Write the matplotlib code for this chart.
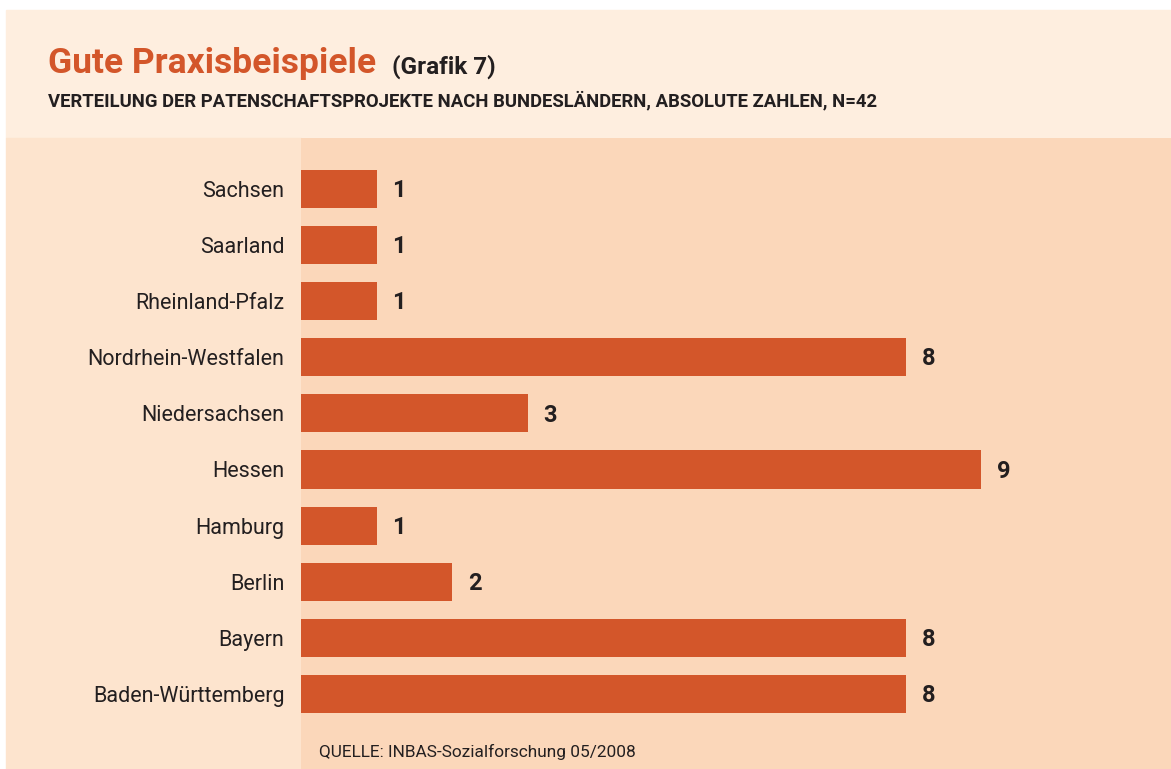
import matplotlib.pyplot as plt
from matplotlib.patches import Rectangle

# data (top to bottom as shown)
laender = ["Sachsen", "Saarland", "Rheinland-Pfalz", "Nordrhein-Westfalen",
           "Niedersachsen", "Hessen", "Hamburg", "Berlin", "Bayern",
           "Baden-Württemberg"]
projekte = [1, 1, 1, 8, 3, 9, 1, 2, 8, 8]

BAR = "#D3562A"
HEAD_BG = "#FEEEDF"
LABEL_BG = "#FDE4CE"
PLOT_BG = "#FBD7BA"
INK = "#231F20"

plt.rcParams["font.family"] = ["Roboto", "DejaVu Sans"]

W, H = 1171, 769
fig = plt.figure(figsize=(W / 100, H / 100), dpi=100)
fig.patch.set_facecolor("white")

# background panels (pixel coords -> figure fraction)
def px_rect(x0, y0, x1, y1, color):
    fig.patches.append(Rectangle((x0 / W, 1 - y1 / H), (x1 - x0) / W, (y1 - y0) / H,
                                 transform=fig.transFigure, color=color, zorder=-5))

px_rect(6, 10, W, 138, HEAD_BG)
px_rect(6, 138, 301, H, LABEL_BG)

ax = fig.add_axes([301 / W, 0, 1 - 301 / W, (H - 138) / H])
ax.set_facecolor(PLOT_BG)

ypos = list(range(len(laender)))[::-1]
ax.barh(ypos, projekte, height=0.68, color=BAR, zorder=2)
for y, v in zip(ypos, projekte):
    ax.text(v + 0.21, y - 0.03, str(v), ha="left", va="center", fontsize=17,
            fontweight="bold", color=INK)

ax.set_xlim(0, (W - 301) / 75.6)
ax.set_ylim(-1.34, 9.91)
ax.set_yticks(ypos)
ax.set_yticklabels(laender, fontsize=15.5, color=INK)
ax.tick_params(axis="y", length=0, pad=12)
ax.set_xticks([])
for s in ax.spines.values():
    s.set_visible(False)

fig.text(48 / W, 1 - 63 / H, "Gute Praxisbeispiele", fontsize=25.5, fontweight="bold",
         color=BAR, va="center", ha="left")
fig.text(392 / W, 1 - 67 / H, "(Grafik 7)", fontsize=17.5, fontweight="bold",
         color=INK, va="center", ha="left")
fig.text(48 / W, 1 - 101 / H,
         "VERTEILUNG DER PATENSCHAFTSPROJEKTE NACH BUNDESLÄNDERN, ABSOLUTE ZAHLEN, N=42",
         fontsize=13.3, fontweight="bold", color=INK, va="center", ha="left")
fig.text(319 / W, 1 - 752 / H, "QUELLE: INBAS-Sozialforschung 05/2008",
         fontsize=12.4, color=INK, va="center", ha="left")

fig.savefig("out.png", dpi=100)
